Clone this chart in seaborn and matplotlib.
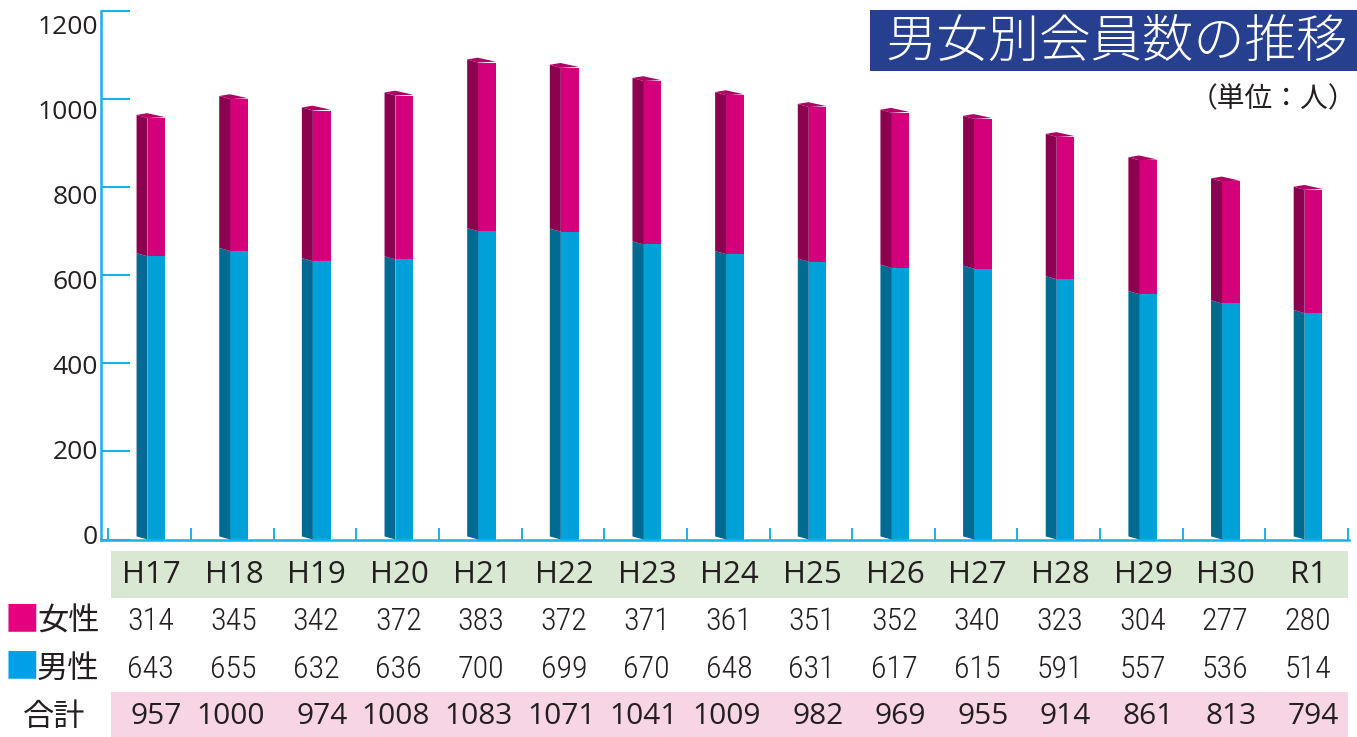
import numpy as np
import pandas as pd
import matplotlib
matplotlib.use("Agg")
import matplotlib.pyplot as plt
import matplotlib.transforms as mtransforms
from matplotlib.patches import Polygon, Rectangle
import seaborn as sns

# ---------------- data ----------------
categories = ["H17", "H18", "H19", "H20", "H21", "H22", "H23", "H24",
              "H25", "H26", "H27", "H28", "H29", "H30", "R1"]
female = [314, 345, 342, 372, 383, 372, 371, 361, 351, 352, 340, 323, 304, 277, 280]
male = [643, 655, 632, 636, 700, 699, 670, 648, 631, 617, 615, 591, 557, 536, 514]
total = [957, 1000, 974, 1008, 1083, 1071, 1041, 1009, 982, 969, 955, 914, 861, 813, 794]
yticks = [0, 200, 400, 600, 800, 1000, 1200]
title = "男女別会員数の推移"
unit_label = "（単位：人）"
row_labels = ["女性", "男性", "合計"]

# ---------------- style ----------------
W, H = 1357, 737
AXIS_C = "#1ab0e8"
TXT_C = "#231f20"
MAG_F, MAG_S, MAG_T = "#d4007b", "#8c0050", "#b00066"
BLU_F, BLU_S = "#00a0d9", "#006a92"
NAVY = "#263f8e"
GREEN_BG = "#d9e8d2"
PINK_BG = "#f8d5e5"
CJK = ["Noto Sans CJK JP", "DejaVu Sans"]
LAT = ["Open Sans", "DejaVu Sans"]
NARROW = ["Roboto Condensed", "Liberation Sans Narrow", "DejaVu Sans Condensed",
          "Open Sans Condensed", "Noto Sans Condensed", "Arial Narrow", "Roboto", "DejaVu Sans"]

sns.set_theme(style="white")
plt.rcParams["font.family"] = LAT

fig = plt.figure(figsize=(W / 100, H / 100), dpi=100)

def fx(px):
    return px / W

def fy(py):
    return 1 - py / H

# main axes
ax_left, ax_right, ax_top, ax_bot = 101, 1348.5, 11, 539.5
ax = fig.add_axes([fx(ax_left), fy(ax_bot), fx(ax_right - ax_left), fy(ax_top) - fy(ax_bot)])

n = len(categories)
front_off = 0.082
front_w = 0.214
side_w = 0.133
dlift = 7.0  # depth lift (data units)

df = pd.DataFrame({"x": np.arange(n) + front_off, "total": total, "male": male})
sns.barplot(data=df, x="x", y="total", native_scale=True, width=front_w,
            color=MAG_F, saturation=1, errorbar=None, ax=ax, linewidth=0)
sns.barplot(data=df, x="x", y="male", native_scale=True, width=front_w,
            color=BLU_F, saturation=1, errorbar=None, ax=ax, linewidth=0)

# 3D side faces and caps, derived from the data
for i in range(n):
    xf = i + front_off - front_w / 2
    xr = xf + front_w
    xl = xf - side_w
    m, t = male[i], total[i]
    ax.add_patch(Polygon([(xl, dlift), (xf, 0), (xf, m), (xl, m + dlift)],
                         closed=True, facecolor=BLU_S, edgecolor="none", zorder=3))
    ax.add_patch(Polygon([(xl, m + dlift), (xf, m), (xf, t), (xl, t + dlift)],
                         closed=True, facecolor=MAG_S, edgecolor="none", zorder=3))
    ax.add_patch(Polygon([(xf, t), (xl, t + dlift), (xl + front_w * 0.6, t + dlift + 4),
                          (xr, t + 2)],
                         closed=True, facecolor=MAG_T, edgecolor="none", zorder=3))
    ax.plot([xr, xr], [0, t + 2], color="#ffffff", lw=0.6, alpha=0.5, zorder=4)

ax.set_xlim(-0.5 - 7.3 / 82.67, n - 0.5 + 0.005)
ax.set_ylim(0, 1200)
ax.set_xlabel("")
ax.set_ylabel("")
ax.set_xticks([])
ax.set_xticks(np.arange(n + 1) - 0.5, minor=True)
ax.set_yticks(yticks)
ax.set_yticklabels([])
ax.tick_params(axis="y", which="major", direction="in", length=21, width=1.5,
               color=AXIS_C, left=True, labelleft=False)
ax.tick_params(axis="x", which="minor", direction="in", length=8.6, width=1.4,
               color=AXIS_C, bottom=True)
ax.tick_params(axis="x", which="major", bottom=False, labelbottom=False)
for s in ["top", "right"]:
    ax.spines[s].set_visible(False)
for s in ["left", "bottom"]:
    ax.spines[s].set_color(AXIS_C)
    ax.spines[s].set_linewidth(1.8)
ax.patch.set_alpha(0)
for line in ax.yaxis.get_ticklines():
    line.set_clip_on(False)

# y tick labels (in the original they sit on a slightly compressed scale)
lab_bot, lab_top = 535, 24
lab = fig.add_axes([fx(ax_left), fy(lab_bot), 0.001, fy(lab_top) - fy(lab_bot)])
lab.set_ylim(0, 1200)
lab.set_yticks(yticks)
lab.set_yticklabels([str(v) for v in yticks])
lab.set_xticks([])
lab.tick_params(axis="y", length=0, pad=2.2, labelsize=19, labelcolor=TXT_C)
for s in lab.spines.values():
    s.set_visible(False)
lab.patch.set_alpha(0)

# ---------------- table ----------------
trans = mtransforms.blended_transform_factory(ax.transData, fig.transFigure)
x0_tab = -0.5 + 2.7 / 82.67
x1_tab = n - 0.5 - 0.005
fig.patches.append(Rectangle((x0_tab, fy(597.5)), x1_tab - x0_tab, fy(551) - fy(597.5),
                             transform=trans, facecolor=GREEN_BG, edgecolor="none"))
fig.patches.append(Rectangle((x0_tab, fy(737)), x1_tab - x0_tab, fy(692) - fy(737),
                             transform=trans, facecolor=PINK_BG, edgecolor="none"))

for i in range(n):
    fig.text(i + 0.02, fy(575), categories[i], transform=trans, ha="center", va="center",
             fontsize=22.5, color=TXT_C, family=LAT)
    fig.text(i + 0.295, fy(622), str(female[i]), transform=trans, ha="right", va="center",
             fontsize=23, color=TXT_C, family=NARROW, fontweight="light")
    fig.text(i + 0.295, fy(669), str(male[i]), transform=trans, ha="right", va="center",
             fontsize=23, color=TXT_C, family=NARROW, fontweight="light")
    fig.text(i + 0.393, fy(717), str(total[i]), transform=trans, ha="right", va="center",
             fontsize=21.5, color=TXT_C, family=LAT)

# row labels
fig.text(fx(22), fy(621), "■", ha="center", va="center", fontsize=25, color="#e4007f", family=CJK)
fig.text(fx(37), fy(622), row_labels[0], ha="left", va="center", fontsize=22.5, color=TXT_C, family=CJK)
fig.text(fx(22), fy(668), "■", ha="center", va="center", fontsize=25, color="#00a0e9", family=CJK)
fig.text(fx(37), fy(669), row_labels[1], ha="left", va="center", fontsize=22.5, color=TXT_C, family=CJK)
fig.text(fx(54), fy(717), row_labels[2], ha="center", va="center", fontsize=22.5, color=TXT_C, family=CJK)

# ---------------- title ----------------
fig.patches.append(Rectangle((fx(870), fy(71)), fx(W - 870), fy(10) - fy(71),
                             transform=fig.transFigure, facecolor=NAVY, edgecolor="none"))
fig.text(fx(1116), fy(42), title, ha="center", va="center", fontsize=37, color="white",
         family=CJK, fontweight="light")
fig.text(fx(1356), fy(99), unit_label, ha="right", va="center", fontsize=20, color=TXT_C,
         family=CJK)

fig.savefig("out.png", dpi=100)
